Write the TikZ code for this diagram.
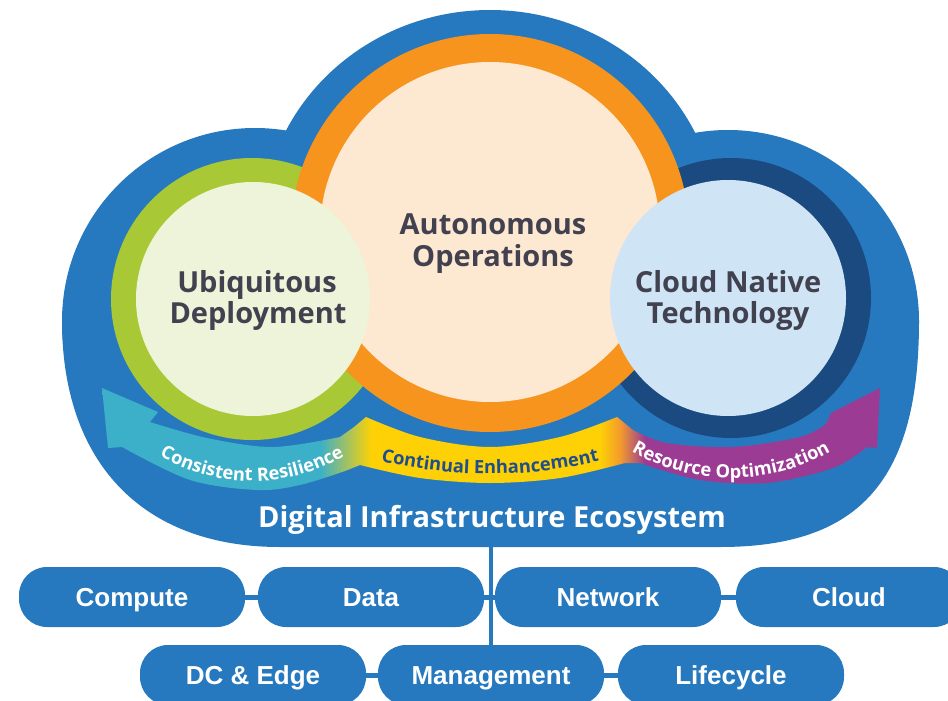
\documentclass[tikz,border=0pt]{standalone}
\usepackage{fontspec}
\setmainfont{Open Sans}
\newfontfamily\pillfont{Liberation Sans}
\usetikzlibrary{decorations.text}
\definecolor{cloudblue}{HTML}{2679BE}
\definecolor{ringorange}{HTML}{F7941E}
\definecolor{peach}{HTML}{FDE8D1}
\definecolor{ringgreen}{HTML}{A8C935}
\definecolor{lightgreen}{HTML}{EEF4D9}
\definecolor{navyring}{HTML}{1A4A80}
\definecolor{lightblue}{HTML}{CFE4F5}
\definecolor{bandcyan}{HTML}{3BB0C8}
\definecolor{bandyellow}{HTML}{FDD106}
\definecolor{bandorange}{HTML}{F39A2C}
\definecolor{bandpurple}{HTML}{9B3B93}
\definecolor{labelgray}{HTML}{424150}
\definecolor{enhblue}{HTML}{1F4E8A}
\pgfdeclarehorizontalshading{bandshade}{100bp}{color(0bp)=(bandcyan); color(39bp)=(bandcyan); color(42.3bp)=(bandyellow); color(57bp)=(bandyellow); color(58.3bp)=(bandorange); color(59.9bp)=(bandpurple); color(100bp)=(bandpurple)}
\newcommand\bandfont{\fontsize{18.3}{20}\selectfont\bfseries}
\tikzset{
  lbl/.style={font=\fontsize{29}{32}\selectfont\bfseries, text=labelgray, inner sep=0pt, anchor=base},
  ecolbl/.style={font=\fontsize{29}{32}\selectfont\bfseries, text=white, inner sep=0pt, anchor=base},
  pill/.style={fill=cloudblue, rounded corners=28pt, minimum width=226pt, minimum height=60pt,
    inner sep=0pt, text=white, font=\pillfont\bfseries\fontsize{26}{26}\selectfont,
    text height=18.6pt, text depth=0pt},
  stub/.style={draw=cloudblue, line width=5pt},
  trunk/.style={draw=cloudblue, line width=3.5pt},
}
\begin{document}
\begin{tikzpicture}[x=1pt,y=-1pt]
\useasboundingbox (0,0) rectangle (948,701);
\clip (0,0) rectangle (948,701);
% cloud
\fill[cloudblue] (490,228) ellipse[x radius=228, y radius=218];
\fill[cloudblue] (255,321) circle[radius=193];
\fill[cloudblue] (728,321) circle[radius=191];
\fill[cloudblue] (62,321) .. controls (62,460) and (140,547) .. (280,547) -- (720,547)
   .. controls (860,547) and (919,480) .. (919,321) -- cycle;
% rings
\fill[ringgreen] (252,299) circle[radius=141];
\fill[navyring] (731,298) circle[radius=140];
\fill[ringorange] (490,233) circle[radius=199];
\fill[peach] (490,232) circle[radius=170];
\fill[lightgreen] (253,299) circle[radius=117];
\fill[lightblue] (728,298) circle[radius=118];
% band
\shade[shading=bandshade] (102,388) -- (158,412) -- (150,422)
  -- plot[smooth, tension=0.55] coordinates {(150,422) (207,438) (273,447) (340,437)}
  -- (354,427) -- (366,417)
  -- plot[smooth, tension=0.55] coordinates {(366,417) (420,437) (490,447) (560,437) (617,417)}
  -- plot[smooth, tension=0.55] coordinates {(633,430) (667,443) (733,447) (800,437) (826,424)}
  -- (831,413) -- (880,388) -- (877,448)
  -- plot[smooth, tension=0.55] coordinates {(867,447) (833,468) (767,483) (700,480) (640,463)}
  -- plot[smooth, tension=0.55] coordinates {(625,463) (560,478) (490,483) (420,478) (360,465)}
  -- plot[smooth, tension=0.55] coordinates {(345,471) (300,485) (257,490) (190,480) (122,447)}
  -- (108,448) -- cycle;
% band texts
\path[decorate, decoration={text along path, text align=center, text color=white,
   text={|\bandfont|Consistent Resilience}}]
   (147.6,448.1) arc[start angle=235, end angle=305, radius=182pt];
\path[decorate, decoration={text along path, text align=center, text color=enhblue,
   text={|\bandfont|Continual Enhancement}}]
   (361.6,455.9) arc[start angle=254, end angle=286, radius=466pt];
\path[decorate, decoration={text along path, text align=center, text color=white,
   text={|\bandfont|Resource Optimization}}]
   (616.3,441.8) arc[start angle=235, end angle=305, radius=200pt];
% labels
\node[lbl] (auto1) at (493,234) {Autonomous};
\node[lbl] (auto2) at (493,266) {Operations};
\node[lbl] (ubi1) at (257,292) {Ubiquitous};
\node[lbl] (ubi2) at (258,323) {Deployment};
\node[lbl] (cnt1) at (728,292) {Cloud Native};
\node[lbl] (cnt2) at (728,323) {Technology};
\node[ecolbl] (eco) at (492,527) {Digital Infrastructure Ecosystem};
\coordinate (ecobottom) at (491,546);
% pills
\node[pill] (compute) at (132,597) {Compute};
\node[pill] (data) at (371,597) {Data};
\node[pill] (network) at (608,597) {Network};
\node[pill] (cloud) at (849,597) {Cloud};
\node[pill] (dcedge) at (253,675) {DC \& Edge};
\node[pill] (management) at (491,675) {Management};
\node[pill] (lifecycle) at (731,675) {Lifecycle};
\draw[stub] (compute) -- (data);
\draw[stub] (data) -- (network);
\draw[stub] (network) -- (cloud);
\draw[stub] (dcedge) -- (management);
\draw[stub] (management) -- (lifecycle);
\draw[trunk] (ecobottom) -- (management);
\end{tikzpicture}
\end{document}
